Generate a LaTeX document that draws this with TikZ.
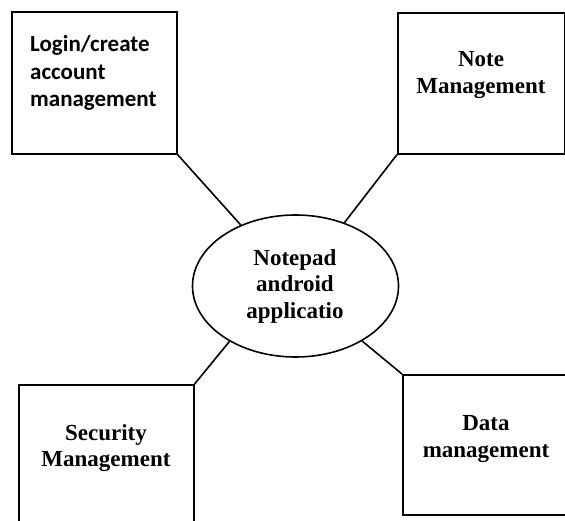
\documentclass[tikz,border=0pt]{standalone}
\usepackage{fontspec}
\setmainfont{Liberation Serif}
\newfontfamily\calib{Carlito}
\usetikzlibrary{shapes.geometric}
\begin{document}
\begin{tikzpicture}[x=1pt,y=-1pt,
  box/.style={draw,line width=1.6pt,rectangle,inner sep=0pt,anchor=north west},
  lbl/.style={font=\bfseries\fontsize{23}{26.5}\selectfont,align=center,inner sep=0pt},
  conn/.style={line width=1.6pt}]
\clip (0,0) rectangle (565,521);
\fill[white] (0,0) rectangle (565,521);
% boxes
\node[box,minimum width=165pt,minimum height=142pt] (login) at (11,11) {};
\node[box,minimum width=167pt,minimum height=141pt] (note) at (397,12) {};
\node[box,minimum width=175pt,minimum height=160pt] (sec) at (18,384) {};
\node[box,minimum width=168pt,minimum height=140pt] (data) at (402,374) {};
% center ellipse
\node[draw,ellipse,line width=1.6pt,minimum width=206pt,minimum height=142pt,inner sep=0pt] (app) at (295.5,286) {};
% labels
\node[inner sep=0pt,anchor=west,align=left,font=\calib\bfseries\fontsize{23}{27.5}\selectfont] (logintxt) at (30,73) {Login/create\\account\\management};
\node[lbl] (notetxt) at (481,75) {Note\\Management};
\node[lbl] (apptxt) at (295,286) {Notepad\\android\\applicatio};
\node[lbl] (sectxt) at (106,448) {Security\\Management};
\node[lbl] (datatxt) at (486,439) {Data\\management};
% connectors
\draw[conn] (login.south east) -- (app);
\draw[conn] (note.south west) -- (app);
\draw[conn] (sec.north east) -- (app.220);
\draw[conn] (data.north west) -- (app);
\end{tikzpicture}
\end{document}
